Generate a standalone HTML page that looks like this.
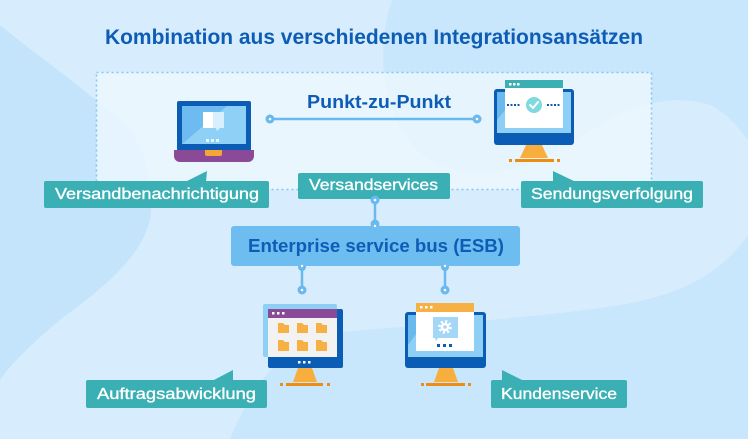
<!DOCTYPE html>
<html>
<head>
<meta charset="utf-8">
<style>
html,body{margin:0;padding:0;width:748px;height:439px;overflow:hidden;background:#c7e5fc;}
svg{display:block;}
text{font-family:"Liberation Sans",sans-serif;}
</style>
</head>
<body>
<svg width="748" height="439" viewBox="0 0 748 439" xmlns="http://www.w3.org/2000/svg">
  <!-- background -->
  <rect width="748" height="439" fill="#c8e6fc"/>
  <path d="M0,0 L392,0 C372,60 385,140 440,165 C500,190 560,150 600,125 C640,100 680,95 710,105 C730,115 740,130 748,140 L748,235 C720,275 680,295 620,305 C540,318 420,325 330,333 C280,345 250,390 230,439 L0,439 Z" fill="#d7edfd"/>
  <path d="M0,25 C40,58 90,92 127,127 C147,150 155,190 150,220 C140,260 100,290 60,320 C30,345 10,365 0,380 Z" fill="#c4e4fc"/>

  <!-- dotted area -->
  <rect x="96.5" y="72.5" width="555" height="117" fill="#eef8fe" fill-opacity="0.8" stroke="#86c6f2" stroke-width="1.6" stroke-dasharray="2 3"/>

  <!-- title -->
  <text x="105" y="44" font-size="21" font-weight="bold" fill="#0d5db6" textLength="538" lengthAdjust="spacingAndGlyphs">Kombination aus verschiedenen Integrationsansätzen</text>

  <!-- Punkt-zu-Punkt -->
  <text x="307" y="108" font-size="18" font-weight="bold" fill="#0d5db6" textLength="144" lengthAdjust="spacingAndGlyphs">Punkt-zu-Punkt</text>
  <line x1="270" y1="119" x2="477" y2="119" stroke="#6ab9ee" stroke-width="2.5"/>
  <circle cx="270" cy="119" r="4.5" fill="#6ab9ee"/><circle cx="270" cy="119" r="1.3" fill="#fff"/>
  <circle cx="477" cy="119" r="4.5" fill="#6ab9ee"/><circle cx="477" cy="119" r="1.3" fill="#fff"/>

  <!-- Laptop -->
  <rect x="177" y="101" width="74" height="50" rx="2" fill="#0b5cb5"/>
  <rect x="182" y="106" width="64" height="38" fill="#6dbbf0"/>
  <polygon points="182,144 227,106 246,106 246,144" fill="#8fd0f6"/>
  <rect x="203" y="112" width="10" height="16" fill="#ffffff"/>
  <path d="M213,112 h11 v16 h-4 l-3,3 l-1,-3 h-3 z" fill="#d8effd"/>
  <rect x="206" y="139" width="3" height="3" fill="#e6f5fe"/>
  <rect x="211" y="139" width="3" height="3" fill="#e6f5fe"/>
  <rect x="216" y="139" width="3" height="3" fill="#e6f5fe"/>
  <path d="M174,150 h80 v6 a6,6 0 0 1 -6,6 h-68 a6,6 0 0 1 -6,-6 z" fill="#8b4a97"/>
  <path d="M205,150 h17 v4 a2,2 0 0 1 -2,2 h-13 a2,2 0 0 1 -2,-2 z" fill="#f6a536"/>

  <!-- Right monitor (Sendungsverfolgung) -->
  <rect x="494" y="89" width="80" height="56" rx="3" fill="#0b5cb5"/>
  <rect x="497" y="92" width="74" height="41" fill="#8ecff5"/>
  <polygon points="497,92 520,92 497,120" fill="#6ab9ee"/>
  <rect x="505" y="80" width="58" height="48" fill="#ffffff"/>
  <rect x="505" y="80" width="58" height="8" fill="#3aafb4"/>
  <rect x="509" y="83" width="2.5" height="2.5" fill="#fff"/>
  <rect x="513" y="83" width="2.5" height="2.5" fill="#fff"/>
  <rect x="517" y="83" width="2.5" height="2.5" fill="#fff"/>
  <circle cx="534" cy="105" r="8" fill="#7fd9de"/>
  <path d="M530,105 l3,3 l5,-6" fill="none" stroke="#fff" stroke-width="2" stroke-linecap="round" stroke-linejoin="round"/>
  <line x1="507" y1="105" x2="521" y2="105" stroke="#0b5cb5" stroke-width="2" stroke-dasharray="2 1.5"/>
  <line x1="547" y1="105" x2="561" y2="105" stroke="#0b5cb5" stroke-width="2" stroke-dasharray="2 1.5"/>
  <polygon points="526,145 542,145 548,158 520,158" fill="#f7ae3f"/>
  <rect x="515" y="159" width="39" height="3" fill="#ef8c12"/>
  <rect x="509" y="159" width="3" height="3" fill="#ef8c12"/>
  <rect x="557" y="159" width="3" height="3" fill="#ef8c12"/>

  <!-- Labels top -->
  <g stroke="#ffffff" stroke-width="0.35">
  <polygon points="185,182 207,171 206,182" fill="#3aafb4" stroke="none"/>
  <rect x="44" y="181" width="225" height="27" rx="2" fill="#3aafb4" stroke="none"/>
  <text x="55" y="199" font-size="16" fill="#ffffff" textLength="204" lengthAdjust="spacingAndGlyphs">Versandbenachrichtigung</text>

  <rect x="298" y="173" width="152" height="26" rx="2" fill="#3aafb4" stroke="none"/>
  <text x="309" y="190" font-size="16" fill="#ffffff" textLength="129" lengthAdjust="spacingAndGlyphs">Versandservices</text>

  <polygon points="553,171 576,182 553,182" fill="#3aafb4" stroke="none"/>
  <rect x="521" y="181" width="182" height="27" rx="2" fill="#3aafb4" stroke="none"/>
  <text x="531" y="199" font-size="16" fill="#ffffff" textLength="162" lengthAdjust="spacingAndGlyphs">Sendungsverfolgung</text>
  </g>

  <!-- connectors to ESB -->
  <line x1="375" y1="200" x2="375" y2="225" stroke="#6ab9ee" stroke-width="2.5"/>
  <circle cx="375" cy="224" r="4.5" fill="#6ab9ee"/>
  <line x1="302" y1="266" x2="302" y2="290" stroke="#6ab9ee" stroke-width="2.5"/>
  <line x1="445" y1="266" x2="445" y2="290" stroke="#6ab9ee" stroke-width="2.5"/>
  <circle cx="302" cy="267" r="4" fill="#6ab9ee"/>
  <circle cx="445" cy="267" r="4" fill="#6ab9ee"/>

  <!-- ESB -->
  <rect x="231" y="226" width="289" height="40" rx="3" fill="#6ebdf1"/>
  <text x="248" y="252" font-size="18" font-weight="bold" fill="#0d5db6" textLength="256" lengthAdjust="spacingAndGlyphs">Enterprise service bus (ESB)</text>
  <circle cx="375" cy="226" r="1.2" fill="#fff"/>
  <circle cx="302" cy="266" r="1.2" fill="#fff"/>
  <circle cx="445" cy="266" r="1.2" fill="#fff"/>

  <circle cx="375" cy="200" r="4.5" fill="#6ab9ee"/><circle cx="375" cy="200" r="1.3" fill="#fff"/>
  <circle cx="302" cy="290" r="4.5" fill="#6ab9ee"/><circle cx="302" cy="290" r="1.3" fill="#fff"/>
  <circle cx="445" cy="290" r="4.5" fill="#6ab9ee"/><circle cx="445" cy="290" r="1.3" fill="#fff"/>

  <!-- Bottom-left monitor (Auftragsabwicklung) -->
  <rect x="263" y="304" width="74" height="53" rx="2" fill="#8ecff5"/>
  <rect x="268" y="309" width="75" height="59" rx="2" fill="#0b5cb5"/>
  <rect x="268" y="309" width="69" height="48" fill="#f2f2f2"/>
  <rect x="268" y="309" width="69" height="9" fill="#8b4a97"/>
  <rect x="272" y="312" width="2.5" height="2.5" fill="#fff"/>
  <rect x="277" y="312" width="2.5" height="2.5" fill="#fff"/>
  <rect x="282" y="312" width="2.5" height="2.5" fill="#fff"/>
  <g fill="#f6b043">
    <path d="M278,323 h5 l2,2 h4 v8 h-11 z"/>
    <path d="M297,323 h5 l2,2 h4 v8 h-11 z"/>
    <path d="M316,323 h5 l2,2 h4 v8 h-11 z"/>
    <path d="M278,340 h5 l2,2 h4 v9 h-11 z"/>
    <path d="M297,340 h5 l2,2 h4 v9 h-11 z"/>
    <path d="M316,340 h5 l2,2 h4 v9 h-11 z"/>
  </g>
  <rect x="298" y="361" width="2.5" height="2.5" fill="#fff"/>
  <rect x="303" y="361" width="2.5" height="2.5" fill="#fff"/>
  <rect x="308" y="361" width="2.5" height="2.5" fill="#fff"/>
  <polygon points="298,368 312,368 317,382 293,382" fill="#f7ae3f"/>
  <rect x="286" y="383" width="37" height="3" fill="#ef8c12"/>
  <rect x="280" y="383" width="3" height="3" fill="#ef8c12"/>
  <rect x="327" y="383" width="3" height="3" fill="#ef8c12"/>

  <!-- Bottom-right monitor (Kundenservice) -->
  <rect x="405" y="312" width="81" height="56" rx="3" fill="#0b5cb5"/>
  <rect x="408" y="315" width="75" height="42" fill="#8ecff5"/>
  <polygon points="408,315 430,315 408,345" fill="#6ab9ee"/>
  <rect x="416" y="303" width="58" height="48" fill="#ffffff"/>
  <rect x="416" y="303" width="58" height="9" fill="#f6b043"/>
  <rect x="420" y="306" width="2.5" height="2.5" fill="#fff"/>
  <rect x="425" y="306" width="2.5" height="2.5" fill="#fff"/>
  <rect x="430" y="306" width="2.5" height="2.5" fill="#fff"/>
  <path d="M433,317 h25 v21 h-20 l-2,3 l-1,-3 h-2 z" fill="#a3d6f7"/>
  <circle cx="445" cy="327" r="5.5" fill="none" stroke="#fff" stroke-width="2.6" stroke-dasharray="2.2 2.1"/>
  <circle cx="445" cy="327" r="4.3" fill="#fff"/>
  <circle cx="445" cy="327" r="1.8" fill="#a3d6f7"/>
  <rect x="437" y="344" width="3" height="3" fill="#0b5cb5"/>
  <rect x="443" y="344" width="3" height="3" fill="#0b5cb5"/>
  <rect x="449" y="344" width="3" height="3" fill="#0b5cb5"/>
  <polygon points="439,368 453,368 458,382 434,382" fill="#f7ae3f"/>
  <rect x="426" y="383" width="39" height="3" fill="#ef8c12"/>
  <rect x="421" y="383" width="3" height="3" fill="#ef8c12"/>
  <rect x="468" y="383" width="3" height="3" fill="#ef8c12"/>

  <!-- Labels bottom -->
  <g stroke="#ffffff" stroke-width="0.35">
  <polygon points="212,381 233,370 233,381" fill="#3aafb4" stroke="none"/>
  <rect x="86" y="380" width="181" height="28" rx="2" fill="#3aafb4" stroke="none"/>
  <text x="97" y="399" font-size="16" fill="#ffffff" textLength="159" lengthAdjust="spacingAndGlyphs">Auftragsabwicklung</text>

  <polygon points="502,370 524,381 502,381" fill="#3aafb4" stroke="none"/>
  <rect x="491" y="380" width="136" height="28" rx="2" fill="#3aafb4" stroke="none"/>
  <text x="501" y="399" font-size="16" fill="#ffffff" textLength="116" lengthAdjust="spacingAndGlyphs">Kundenservice</text>
  </g>
</svg>
</body>
</html>
